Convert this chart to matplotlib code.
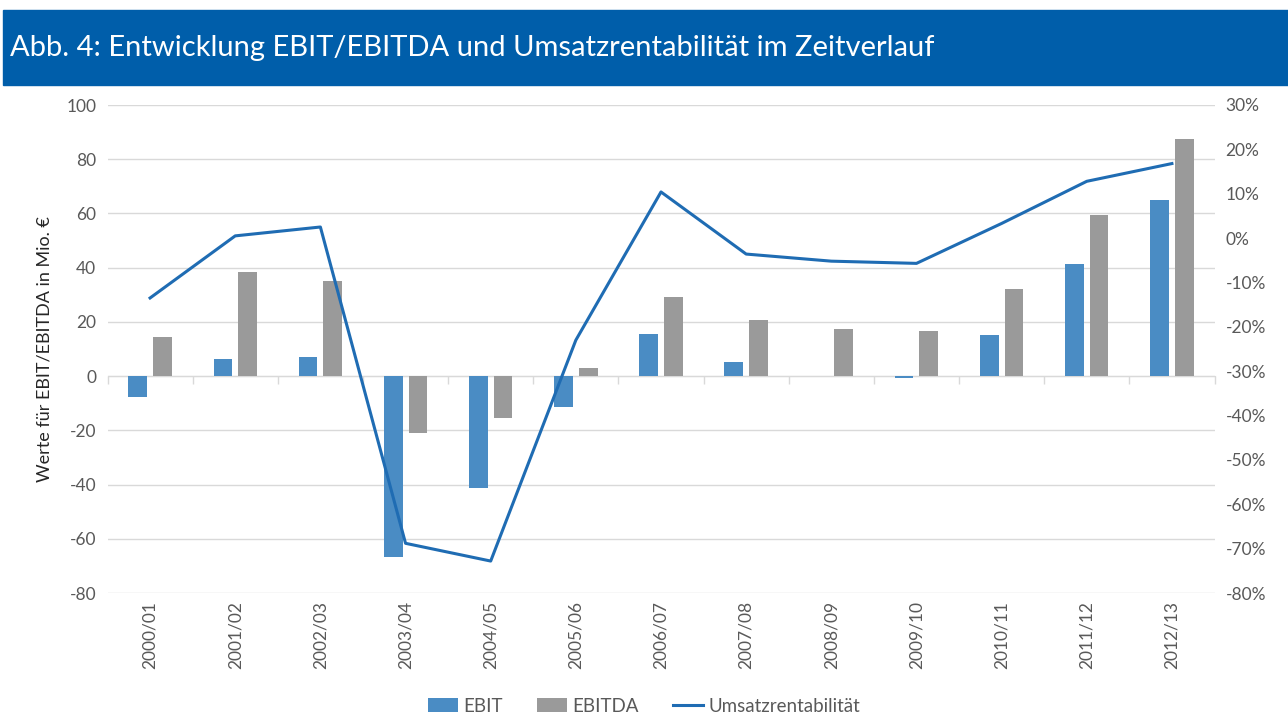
import matplotlib
matplotlib.use('Agg')
import matplotlib.pyplot as plt
from matplotlib.patches import Rectangle
from matplotlib.ticker import FuncFormatter
import numpy as np

plt.rcParams['font.family'] = ['Lato', 'DejaVu Sans']
plt.rcParams['axes.unicode_minus'] = False

# Daten
jahre = ['2000/01', '2001/02', '2002/03', '2003/04', '2004/05', '2005/06', '2006/07',
         '2007/08', '2008/09', '2009/10', '2010/11', '2011/12', '2012/13']
ebit = [-7.7, 6.2, 7.1, -66.8, -41.3, -11.3, 15.7, 5.3, 0.0, -0.8, 15.0, 41.2, 64.9]
ebitda = [14.5, 38.5, 35.2, -21.1, -15.6, 3.1, 29.0, 20.7, 17.2, 16.7, 32.2, 59.6, 87.3]
umsatzrendite = [-13.5, 0.5, 2.5, -68.8, -72.8, -23.0, 10.4, -3.6, -5.2, -5.7, 3.3, 12.8, 16.8]

c_ebit = '#4a8cc4'
c_ebitda = '#9a9a9a'
c_linie = '#1f6cb3'
c_text = '#595959'
c_grid = '#d9d9d9'

fig = plt.figure(figsize=(12.88, 7.18), dpi=100)

# Titelbalken
fig.patches.append(Rectangle((3 / 1288, 1 - 85 / 718), 1 - 3 / 1288, 75 / 718,
                             transform=fig.transFigure, color='#005eaa', zorder=0))
fig.text(10 / 1288, 1 - 48 / 718, 'Abb. 4: Entwicklung EBIT/EBITDA und Umsatzrentabilität im Zeitverlauf',
         color='white', fontsize=21, va='center', ha='left')

ax = fig.add_axes([107.5 / 1288, 1 - 593 / 718, 1107 / 1288, 488 / 718])
x = np.arange(len(jahre))
breite = 0.22
ax.bar(x - 0.145, ebit, breite, color=c_ebit, label='EBIT', zorder=2)
ax.bar(x + 0.145, ebitda, breite, color=c_ebitda, label='EBITDA', zorder=2)

ax.set_ylim(-80, 100)
ax.set_yticks(np.arange(-80, 101, 20))
ax.set_xlim(-0.5, len(jahre) - 0.5)
ax.set_xticks(x)
ax.set_xticklabels(jahre, rotation=90)
ax.tick_params(axis='x', length=0, pad=6, labelsize=12.5, labelcolor=c_text)
ax.tick_params(axis='y', length=0, pad=8, labelsize=12.5, labelcolor=c_text)
ax.grid(axis='y', color=c_grid, linewidth=1, zorder=0)
ax.set_axisbelow(True)
for s in ax.spines.values():
    s.set_visible(False)
ax.set_ylabel('Werte für EBIT/EBITDA in Mio. €', fontsize=13, color='#262626', labelpad=10)

# Achse bei Null mit Teilstrichen zwischen Kategorien
null_pos = (0 - (-80)) / 180
sec = ax.secondary_xaxis(null_pos)
sec.set_xticks(np.arange(-0.5, len(jahre), 1))
sec.set_xticklabels([])
sec.tick_params(axis='x', direction='out', length=6, color=c_grid, width=1)
sec.spines['bottom'].set_color(c_grid)
sec.spines['top'].set_visible(False)
sec.spines['bottom'].set_visible(True)

ax2 = ax.twinx()
ax2.plot(x, umsatzrendite, color=c_linie, linewidth=2.2, label='Umsatzrentabilität', zorder=3)
ax2.set_ylim(-80, 30)
ax2.set_yticks(np.arange(-80, 31, 10))
ax2.yaxis.set_major_formatter(FuncFormatter(lambda v, p: f'{v:.0f}%'))
ax2.tick_params(axis='y', length=0, pad=8, labelsize=12.5, labelcolor=c_text)
for s in ax2.spines.values():
    s.set_visible(False)

h1, l1 = ax.get_legend_handles_labels()
h2, l2 = ax2.get_legend_handles_labels()
fig.legend(h1 + h2, l1 + l2, loc='center', bbox_to_anchor=(0.5, 1 - 706 / 718), ncol=3,
           frameon=False, fontsize=13.5, labelcolor=c_text, handlelength=1.6, handletextpad=0.3,
           columnspacing=1.8)

fig.savefig('out.png', dpi=100)
